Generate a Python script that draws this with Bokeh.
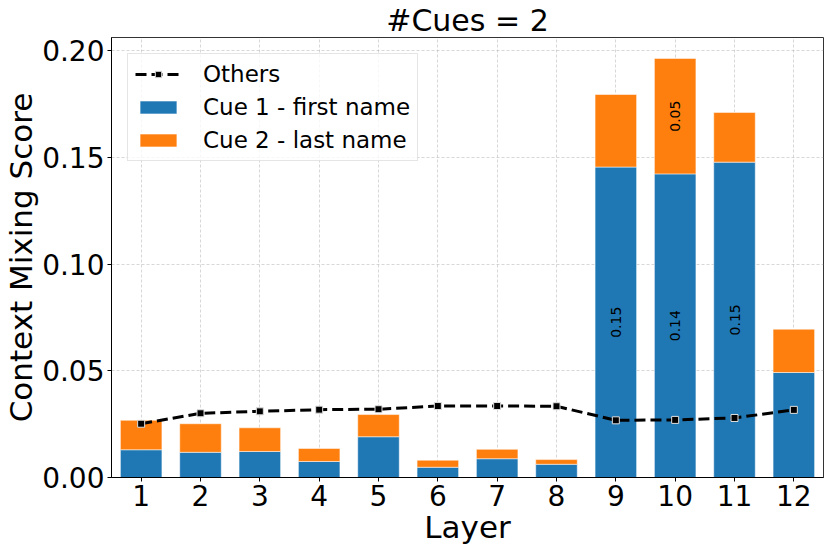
import math
from bokeh.plotting import figure
from bokeh.models import ColumnDataSource, Legend, LegendItem, FixedTicker, Range1d, NumeralTickFormatter
from bokeh.core.properties import value
from bokeh.embed import file_html
from bokeh.resources import INLINE

layers = [1, 2, 3, 4, 5, 6, 7, 8, 9, 10, 11, 12]
cue1_first_name = [0.0130, 0.0118, 0.0122, 0.0075, 0.0191, 0.0048, 0.0088, 0.0062, 0.1455, 0.1423, 0.1478, 0.0492]
cue2_last_name = [0.0138, 0.0134, 0.0111, 0.0061, 0.0104, 0.0033, 0.0044, 0.0022, 0.0340, 0.0541, 0.0233, 0.0203]
others = [0.0252, 0.0301, 0.0310, 0.0318, 0.0320, 0.0335, 0.0335, 0.0334, 0.0268, 0.0270, 0.0279, 0.0317]
y_ticks = [0.0, 0.05, 0.10, 0.15, 0.20]
title_text = "#Cues = 2"
label_threshold = 0.05

FONT = "DejaVu Sans"
BLUE = "#1f77b4"
ORANGE = "#ff7f0e"

tops = [a + b for a, b in zip(cue1_first_name, cue2_last_name)]
src = ColumnDataSource(dict(x=layers, c1=cue1_first_name, c2=cue2_last_name, top=tops, others=others))

p = figure(frame_width=712, frame_height=440, output_backend="svg", toolbar_location=None,
           x_range=Range1d(0.5, 12.5), y_range=Range1d(0, max(tops) * 1.05),
           min_border_left=101, min_border_right=1, min_border_top=27, min_border_bottom=62)

p.title.text = title_text
p.title.align = "center"
p.title.text_font = FONT
p.title.text_font_size = "30px"
p.title.text_font_style = "normal"
p.title.text_color = "black"
p.title.standoff = 0

b1 = p.vbar(x="x", bottom=0, top="c1", width=0.7, source=src, fill_color=BLUE,
            line_color="white", line_alpha=0.5, line_width=1)
b2 = p.vbar(x="x", bottom="c1", top="top", width=0.7, source=src, fill_color=ORANGE,
            line_color="white", line_alpha=0.5, line_width=1)

ln = p.line(x="x", y="others", source=src, line_color="black", line_width=3, line_dash="11 5")
mk = p.scatter(x="x", y="others", source=src, marker="square", size=7, fill_color="black",
               line_color="#e0e0e0", line_width=1)

# value labels inside segments
lx, ly, lt = [], [], []
for x, a, b in zip(layers, cue1_first_name, cue2_last_name):
    if a >= label_threshold:
        lx.append(x); ly.append(a / 2); lt.append(f"{a:.2f}")
    if b >= label_threshold:
        lx.append(x); ly.append(a + b / 2); lt.append(f"{b:.2f}")
p.text(x=lx, y=ly, text=lt, angle=math.pi / 2, text_align="center", text_baseline="middle",
       text_font=value(FONT), text_font_size="14px", text_color="black")

# axes
p.xaxis.ticker = FixedTicker(ticks=layers)
p.yaxis.ticker = FixedTicker(ticks=y_ticks)
p.yaxis.formatter = NumeralTickFormatter(format="0.00")
for ax in (p.xaxis[0], p.yaxis[0]):
    ax.major_label_text_font = FONT
    ax.major_label_text_font_size = "28px"
    ax.major_label_text_color = "black"
    ax.axis_label_text_font = FONT
    ax.axis_label_text_font_size = "31px"
    ax.axis_label_text_font_style = "normal"
    ax.axis_label_text_color = "black"
    ax.axis_line_color = "black"
    ax.major_tick_line_color = "black"
    ax.major_tick_out = 4
    ax.major_tick_in = 0
    ax.minor_tick_line_color = None
    ax.axis_label_standoff = 0
    ax.major_label_standoff = 3
p.xaxis.axis_label = "Layer"
p.yaxis.axis_label = "Context Mixing Score"

p.xgrid.ticker = FixedTicker(ticks=layers)
for g in (p.xgrid[0], p.ygrid[0]):
    g.grid_line_color = "#b0b0b0"
    g.grid_line_alpha = 0.5
    g.grid_line_dash = "3 2"
    g.grid_line_width = 1

p.outline_line_color = "#333333"
p.outline_line_width = 1
p.background_fill_color = "white"
p.border_fill_color = "white"

legend = Legend(items=[
    LegendItem(label="Others", renderers=[ln, mk]),
    LegendItem(label="Cue 1 - first name", renderers=[b1]),
    LegendItem(label="Cue 2 - last name", renderers=[b2]),
], location="top_left")
legend.label_text_font = FONT
legend.label_text_font_size = "23px"
legend.label_text_color = "black"
legend.glyph_width = 46
legend.glyph_height = 16
legend.label_height = 24
legend.label_standoff = 22
legend.spacing = 7
legend.padding = 7
legend.margin = 16
legend.border_line_color = "#cccccc"
legend.border_line_width = 1
legend.background_fill_alpha = 0.8
p.add_layout(legend)

open("out.html", "w").write(file_html(p, INLINE))
